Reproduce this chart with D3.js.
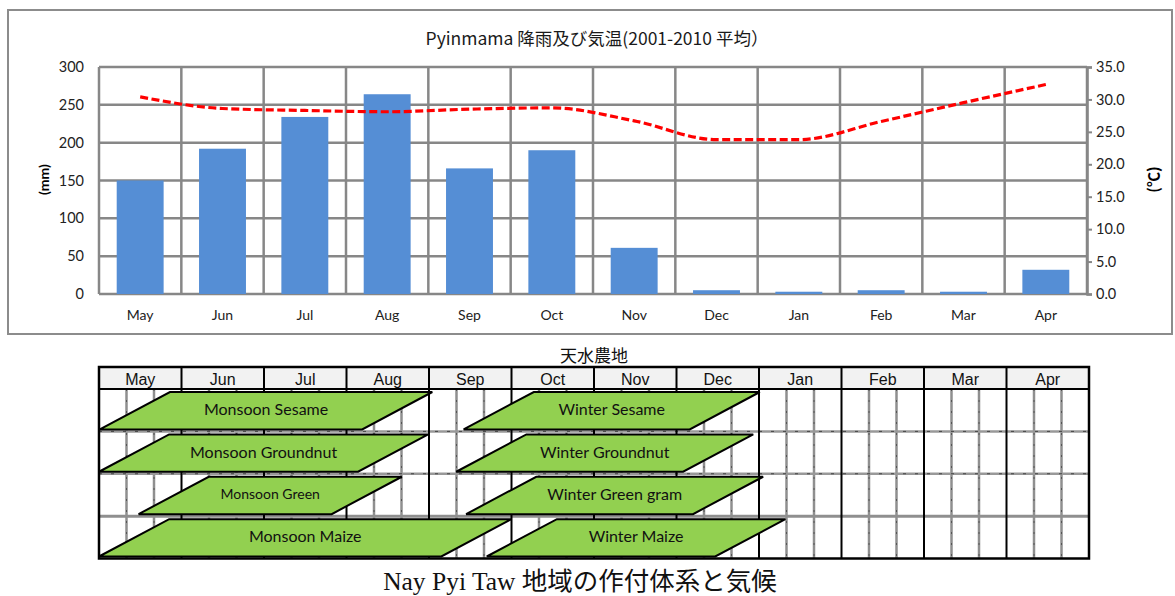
<!DOCTYPE html>
<html>
<head>
<meta charset="utf-8">
<script src="https://cdn.jsdelivr.net/npm/d3@7"></script>
<style>
  body { margin: 0; background: #fff; }
  svg { display: block; }
</style>
</head>
<body>
<svg id="chart" width="1175" height="596"></svg>
<script>
// Monthly climate, Pyinmama (2001-2010 average), starting with the monsoon
const months = ["May", "Jun", "Jul", "Aug", "Sep", "Oct", "Nov", "Dec", "Jan", "Feb", "Mar", "Apr"];
const rainfall = [150, 192, 234, 264, 166, 190, 61, 5, 3, 5, 3, 32];          // mm
const temperature = [30.4, 28.6, 28.3, 28.1, 28.5, 28.7, 26.7, 23.8, 23.8, 26.6, 29.5, 32.3]; // °C
const rainTicks = [0, 50, 100, 150, 200, 250, 300];
const tempTicks = [0, 5, 10, 15, 20, 25, 30, 35];

const chartTitle = "Pyinmama 降雨及び気温(2001-2010 平均）";
const tableTitle = "天水農地";
const caption = "Nay Pyi Taw 地域の作付体系と気候";

// Rain-fed cropping calendar: row, start and end of each season in months from May 1
const cropNames = ["Monsoon Sesame", "Winter Sesame", "Monsoon Groundnut", "Winter Groundnut",
                   "Monsoon Green", "Winter Green gram", "Monsoon Maize", "Winter Maize"];
const cropRow   = [0, 0, 1, 1, 2, 2, 3, 3];
const cropStart = [0.01, 4.42, 0.0, 4.33, 0.48, 4.45, 0.0, 4.70];
const cropEnd   = [4.04, 8.01, 3.99, 7.93, 3.67, 8.05, 5.00, 8.32];

const svg = d3.select("#chart");
const GRID = "#878787";
const latin = "Lato, 'Open Sans', sans-serif";
const jp = "'Noto Sans CJK JP', sans-serif";

// ---------- Climate chart ----------
const plot = { left: 99, right: 1087, top: 67, bottom: 294 };

svg.append("rect")
  .attr("x", 8).attr("y", 10).attr("width", 1164).attr("height", 324)
  .attr("fill", "#fff").attr("stroke", "#8c8c8c").attr("stroke-width", 2);

const x = d3.scaleBand().domain(months)
  .range([plot.left, plot.right]).paddingInner(0.43).paddingOuter(0.215);
const yRain = d3.scaleLinear().domain([0, 300]).range([plot.bottom, plot.top]);
const yTemp = d3.scaleLinear().domain([0, 35]).range([plot.bottom, plot.top]);

svg.append("text")
  .attr("x", 597).attr("y", 45).attr("text-anchor", "middle")
  .attr("font-family", jp).attr("font-size", 17.5).attr("fill", "#1a1a1a")
  .text(chartTitle);

// gridlines
const grid = svg.append("g").attr("stroke", GRID).attr("stroke-width", 2.5);
grid.selectAll("line.h").data(rainTicks).join("line").attr("class", "h")
  .attr("x1", plot.left).attr("x2", plot.right)
  .attr("y1", d => yRain(d)).attr("y2", d => yRain(d));
const bounds = d3.range(months.length + 1).map(i => plot.left + i * x.step());
grid.selectAll("line.v").data(bounds).join("line").attr("class", "v")
  .attr("x1", d => d).attr("x2", d => d)
  .attr("y1", plot.top).attr("y2", plot.bottom);

// rainfall bars
svg.append("g").selectAll("rect").data(months).join("rect")
  .attr("x", d => x(d)).attr("width", x.bandwidth())
  .attr("y", (d, i) => yRain(rainfall[i]))
  .attr("height", (d, i) => yRain(0) - yRain(rainfall[i]))
  .attr("fill", "#558ed5");

// left axis (mm)
const axL = svg.append("g").attr("transform", `translate(${plot.left},0)`)
  .call(d3.axisLeft(yRain).tickValues(rainTicks).tickSize(0).tickPadding(15));
axL.select(".domain").remove();
axL.selectAll("text").attr("font-family", latin).attr("font-size", 14.5).attr("fill", "#222");

// right axis (°C)
const axR = svg.append("g").attr("transform", `translate(${plot.right},0)`)
  .call(d3.axisRight(yTemp).tickValues(tempTicks).tickSize(5).tickPadding(4)
    .tickFormat(d3.format(".1f")));
axR.select(".domain").attr("stroke", GRID).attr("stroke-width", 2.5);
axR.selectAll("line").attr("stroke", GRID).attr("stroke-width", 2);
axR.selectAll("text").attr("font-family", latin).attr("font-size", 14.5).attr("fill", "#222");

// month axis
const axB = svg.append("g").attr("transform", `translate(0,${plot.bottom})`)
  .call(d3.axisBottom(x).tickSize(0).tickPadding(16));
axB.select(".domain").remove();
axB.selectAll("text").attr("font-family", latin).attr("font-size", 14).attr("fill", "#222");

// axis titles
svg.append("text")
  .attr("transform", `translate(45,${(plot.top + plot.bottom) / 2 - 1}) rotate(-90)`)
  .attr("text-anchor", "middle").attr("dominant-baseline", "middle")
  .attr("font-family", latin).attr("font-weight", "bold")
  .attr("font-size", 14).text("(mm)");
svg.append("text")
  .attr("transform", `translate(1155,${(plot.top + plot.bottom) / 2 - 1}) rotate(-90)`)
  .attr("text-anchor", "middle").attr("dominant-baseline", "middle")
  .attr("font-family", jp).attr("font-weight", "bold")
  .attr("font-size", 15).text("(℃)");

// temperature line
const line = d3.line()
  .x((d, i) => x(months[i]) + x.bandwidth() / 2)
  .y(d => yTemp(d))
  .curve(d3.curveMonotoneX);
svg.append("path").datum(temperature)
  .attr("d", line).attr("fill", "none")
  .attr("stroke", "#ff0000").attr("stroke-width", 3.2)
  .attr("stroke-dasharray", "8,3.5");

// ---------- Cropping calendar ----------
const tx = d3.scaleLinear().domain([0, 12]).range([99, 1089]);
const head = { top: 367, bottom: 389 };
const bodyBottom = 558.5;
const ty = d3.scaleBand().domain(d3.range(4)).range([head.bottom, bodyBottom]);

svg.append("text")
  .attr("x", 594).attr("y", 362).attr("text-anchor", "middle")
  .attr("font-family", jp).attr("font-size", 17).attr("fill", "#111")
  .text(tableTitle);

svg.append("rect")
  .attr("x", tx(0)).attr("y", head.top)
  .attr("width", tx(12) - tx(0)).attr("height", head.bottom - head.top)
  .attr("fill", "#f2f2f2");

// ten-day divisions
const dekads = d3.range(12).flatMap(i => [i + 1 / 3, i + 2 / 3]);
const tg = svg.append("g");
tg.selectAll("line.dk").data(dekads).join("line").attr("class", "dk")
  .attr("x1", d => tx(d)).attr("x2", d => tx(d))
  .attr("y1", head.bottom).attr("y2", bodyBottom)
  .attr("stroke", "#8f8f8f").attr("stroke-width", 2.5);
tg.selectAll("line.dkd").data(dekads).join("line").attr("class", "dkd")
  .attr("x1", d => tx(d)).attr("x2", d => tx(d))
  .attr("y1", head.bottom).attr("y2", bodyBottom)
  .attr("stroke", "#555").attr("stroke-width", 1).attr("stroke-dasharray", "2,9");

// row separators
[1, 2].forEach(r => {
  const yy = ty(r);
  tg.append("line").attr("x1", tx(0)).attr("x2", tx(12)).attr("y1", yy).attr("y2", yy)
    .attr("stroke", "#999").attr("stroke-width", 2.5);
  tg.append("line").attr("x1", tx(0)).attr("x2", tx(12)).attr("y1", yy).attr("y2", yy)
    .attr("stroke", "#444").attr("stroke-width", 1).attr("stroke-dasharray", "3,9");
});
tg.append("line").attr("x1", tx(0)).attr("x2", tx(12)).attr("y1", ty(3)).attr("y2", ty(3))
  .attr("stroke", "#8f8f8f").attr("stroke-width", 3);

// month boundaries
tg.selectAll("line.mb").data(d3.range(1, 12)).join("line").attr("class", "mb")
  .attr("x1", d => tx(d)).attr("x2", d => tx(d))
  .attr("y1", head.top).attr("y2", bodyBottom)
  .attr("stroke", "#000").attr("stroke-width", 2);

// header labels
tg.selectAll("text.mh").data(months).join("text").attr("class", "mh")
  .attr("x", (d, i) => tx(i + 0.5)).attr("y", 384.5)
  .attr("text-anchor", "middle")
  .attr("font-family", "'Liberation Sans', Arial, sans-serif").attr("font-size", 16)
  .attr("fill", "#111").text(d => d);

// table frame
tg.append("line").attr("x1", tx(0)).attr("x2", tx(12))
  .attr("y1", head.bottom).attr("y2", head.bottom)
  .attr("stroke", "#000").attr("stroke-width", 2);
tg.append("rect").attr("x", tx(0)).attr("y", head.top)
  .attr("width", tx(12) - tx(0)).attr("height", bodyBottom - head.top)
  .attr("fill", "none").attr("stroke", "#000").attr("stroke-width", 2.5);

// crop seasons as slanted bars
const slant = 0.85;
const labelSize = { "Monsoon Green": 14 };
const crops = cropNames.map((name, i) => ({
  name, row: cropRow[i], start: cropStart[i], end: cropEnd[i]
}));
const cg = svg.append("g");
cg.selectAll("path").data(crops).join("path")
  .attr("d", c => {
    const y0 = ty(c.row) + 3, y1 = ty(c.row) + ty.bandwidth() - 2;
    return `M${tx(c.start)},${y1}L${tx(c.start + slant)},${y0}L${tx(c.end)},${y0}L${tx(c.end - slant)},${y1}Z`;
  })
  .attr("fill", "#92d050").attr("stroke", "#000").attr("stroke-width", 2)
  .attr("stroke-linejoin", "miter");
cg.selectAll("text").data(crops).join("text")
  .attr("x", c => (tx(c.start) + tx(c.end)) / 2)
  .attr("y", c => ty(c.row) + ty.bandwidth() / 2 + 1)
  .attr("dominant-baseline", "middle").attr("text-anchor", "middle")
  .attr("font-family", latin).attr("font-size", c => labelSize[c.name] || 16)
  .attr("fill", "#111").text(c => c.name);

// caption
svg.append("text")
  .attr("x", 580).attr("y", 590).attr("text-anchor", "middle")
  .attr("font-family", "'Liberation Serif', 'Noto Sans CJK JP', serif")
  .attr("font-size", 25.5).attr("fill", "#111")
  .text(caption);
</script>
</body>
</html>
